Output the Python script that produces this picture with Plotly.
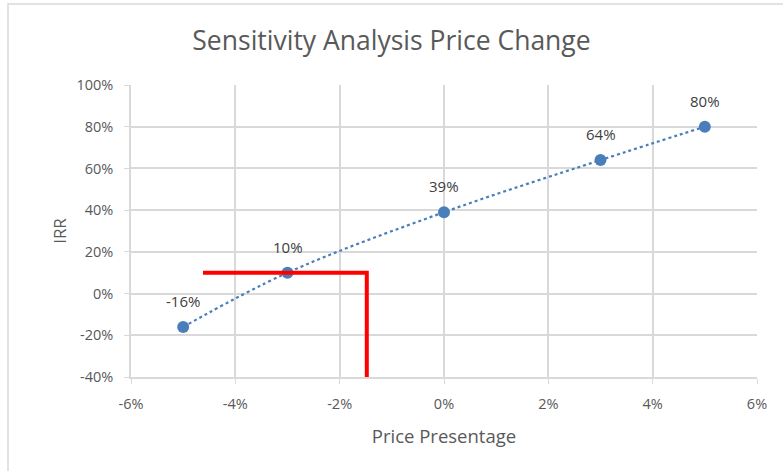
import plotly.graph_objects as go

price_change = [-0.05, -0.03, 0.0, 0.03, 0.05]
irr = [-0.16, 0.10, 0.39, 0.64, 0.80]
labels = ["-16%", "10%", "39%", "64%", "80%"]

x_ticks = [-0.06, -0.04, -0.02, 0.0, 0.02, 0.04, 0.06]
x_ticktext = ["-6%", "-4%", "-2%", "0%", "2%", "4%", "6%"]
y_ticks = [-0.4, -0.2, 0.0, 0.2, 0.4, 0.6, 0.8, 1.0]
y_ticktext = ["-40%", "-20%", "0%", "20%", "40%", "60%", "80%", "100%"]

# red marker lines (horizontal then vertical)
red_x = [-0.0462, -0.0148, -0.0148]
red_y = [0.10, 0.10, -0.40]

FONT = "Open Sans"
GREY = "#595959"

fig = go.Figure()
fig.add_trace(go.Scatter(
    x=price_change, y=irr, mode="lines+markers",
    line=dict(color="#4a7ebb", width=2.2, dash="dot", shape="spline"),
    marker=dict(color="#4a7ebb", size=12),
    showlegend=False, hoverinfo="skip"))
fig.add_trace(go.Scatter(
    x=red_x, y=red_y, mode="lines",
    line=dict(color="#ff0000", width=4),
    showlegend=False, hoverinfo="skip"))

for xv, yv, t in zip(price_change, irr, labels):
    fig.add_annotation(x=xv, y=yv, text=t, showarrow=False, yshift=26,
                       font=dict(family=FONT, size=15, color="#404040"))

fig.update_layout(
    width=783, height=471,
    margin=dict(l=131, r=26, t=85, b=94),
    paper_bgcolor="white", plot_bgcolor="white",
    title=dict(text="Sensitivity Analysis Price Change", x=0.5, xanchor="center",
               y=1 - 41 / 471, yanchor="middle",
               font=dict(family=FONT, size=26.5, color=GREY)),
    font=dict(family=FONT, color=GREY, size=14),
)
fig.update_xaxes(range=[-0.06, 0.06], tickvals=x_ticks, ticktext=x_ticktext,
                 showgrid=True, gridcolor="#d9d9d9", gridwidth=1.5,
                 zeroline=False, showline=True, linecolor="#d9d9d9", linewidth=1.5,
                 ticks="outside", ticklen=5, tickcolor="#d9d9d9", ticklabelstandoff=8,
                 tickfont=dict(family=FONT, size=14.5, color=GREY),
                 title=dict(text="Price Presentage", font=dict(family=FONT, size=18.5, color=GREY), standoff=18))
fig.update_yaxes(range=[-0.4, 1.0], tickvals=y_ticks, ticktext=y_ticktext,
                 showgrid=True, gridcolor="#d9d9d9", gridwidth=1.5,
                 zeroline=False, showline=True, linecolor="#d9d9d9", linewidth=1.5,
                 ticks="outside", ticklen=5, tickcolor="#d9d9d9", ticklabelstandoff=8,
                 tickfont=dict(family=FONT, size=14.5, color=GREY),
                 title=dict(text="IRR", font=dict(family=FONT, size=17, color=GREY), standoff=6))

# outer chart border (light gray), top-left corner at (8px, 4px)
fig.add_shape(type="rect", xref="paper", yref="paper",
              x0=(8 - 131) / 626, x1=1.2, y0=-0.5, y1=1 + (85 - 4) / 292,
              line=dict(color="#d9d9d9", width=1.5), layer="below")

fig.write_html("out.html", config={"displayModeBar": False},
               post_script="document.body.style.margin='0';")
